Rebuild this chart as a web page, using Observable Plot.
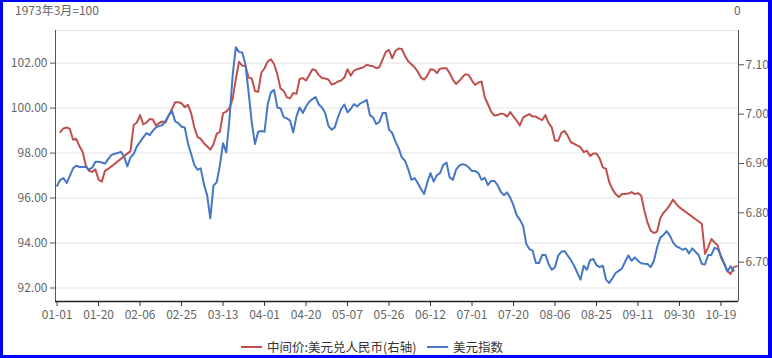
<!DOCTYPE html>
<html>
<head>
<meta charset="utf-8">
<script src="https://cdn.jsdelivr.net/npm/d3@7"></script>
<script src="https://cdn.jsdelivr.net/npm/@observablehq/plot@0.6"></script>
<style>
  html, body { margin: 0; padding: 0; background: #fff; }
  #wrap { position: relative; width: 772px; height: 358px; background: #fff; overflow: hidden;
          font-family: "Noto Sans CJK SC", "Noto Sans", sans-serif; }
  #chart { position: absolute; left: 0; top: 0; }
  .t { position: absolute; font-size: 12px; line-height: 12px; color: #666; white-space: nowrap; }
  .lg { position: absolute; font-size: 12.5px; line-height: 14px; color: #333; white-space: nowrap; }
  .sw { position: absolute; height: 2.5px; }
  #border { position: absolute; left: 0; top: 0; width: 772px; height: 358px; box-sizing: border-box;
            border-style: solid; border-color: #0000ff; border-width: 2px 4px 3px 3px; pointer-events: none; }
</style>
</head>
<body>
<div id="wrap">
  <div id="chart"></div>
  <div class="t" id="leftName" style="left:15px;top:4px"></div>
  <div class="t" id="rightName" style="left:734px;top:4px"></div>
  <div id="legend"></div>
  <div id="border"></div>
</div>
<script>
// ---- data ----
const seriesNames = ["中间价:美元兑人民币(右轴)", "美元指数"];
const seriesColors = ["#C0504D", "#4677C4"];
const leftAxisName = "1973年3月=100";
const rightAxisName = "0";

// x category tick labels (one every 13 trading days)
const xLabels = ["01-01","01-20","02-06","02-25","03-13","04-01","04-20","05-07","05-26",
                 "06-12","07-01","07-20","08-06","08-25","09-11","09-30","10-19"];
const labelStep = 13;
const categoryCount = 214;

const leftTicks = [92, 94, 96, 98, 100, 102];
const rightTicks = [6.70, 6.80, 6.90, 7.00, 7.10];
const leftDomain = [91.40, 103.45];
const rightDomain = [6.6204, 7.1694];

// 美元指数 (left axis)
const dxy = [
96.55,96.81,96.89,96.67,96.99,97.32,97.44,97.38,97.38,97.39,
97.26,97.35,97.61,97.61,97.58,97.53,97.73,97.91,97.97,98.00,
98.06,97.85,97.41,97.81,97.96,98.30,98.50,98.70,98.89,98.80,
98.99,99.14,99.21,99.24,99.44,99.69,99.88,99.41,99.33,99.17,
99.14,98.44,97.96,97.47,97.26,97.32,96.62,96.13,95.10,96.55,
96.70,97.44,98.44,98.03,99.51,101.44,102.70,102.50,102.47,101.96,
100.70,99.36,98.40,98.95,98.98,98.95,100.18,100.70,100.81,100.03,
99.99,99.60,99.54,99.44,98.92,99.63,100.03,99.78,100.07,100.28,
100.40,100.49,100.16,100.03,99.78,99.21,99.04,99.14,99.59,99.96,
100.16,99.81,99.96,100.18,100.07,100.21,100.28,100.37,99.69,99.59,
99.29,99.39,99.78,99.78,99.04,98.89,98.52,98.22,97.81,97.66,
97.29,96.81,96.89,96.67,96.40,96.18,96.70,97.11,96.73,97.02,
97.11,97.47,97.58,96.92,96.81,97.26,97.44,97.51,97.47,97.36,
97.20,97.20,97.11,96.81,96.90,96.58,96.76,96.76,96.58,96.28,
96.13,96.25,96.01,95.67,95.24,95.04,94.77,93.96,93.73,93.66,
93.11,93.11,93.47,93.47,93.07,92.81,92.92,93.44,93.61,93.64,
93.44,93.24,92.99,92.67,92.37,92.99,92.81,93.24,93.29,93.02,
92.93,92.99,92.37,92.22,92.43,92.67,92.76,92.87,93.18,93.45,
93.21,93.36,93.21,93.10,93.08,93.07,92.93,93.21,93.81,94.24,
94.36,94.53,94.33,94.03,93.85,93.79,93.70,93.76,93.54,93.76,
93.61,93.47,93.07,93.05,93.47,93.47,93.79,93.73,93.44,93.11,
92.73,92.96,92.77
];

// 中间价:美元兑人民币 (right axis), null = no fixing that day
const cny = [
null,6.964,6.971,6.973,6.970,6.948,6.950,6.935,6.924,6.896,
6.885,6.883,6.888,6.867,6.863,6.885,6.889,null,null,null,
null,null,null,6.925,6.978,6.983,6.998,6.979,6.983,6.990,
6.989,6.977,6.982,6.985,6.983,6.998,7.010,7.024,7.024,7.022,
7.014,7.019,7.002,6.973,6.954,6.950,6.941,6.935,6.928,6.939,
6.960,6.964,7.002,7.005,7.012,7.031,7.071,7.106,7.098,7.098,
7.074,7.072,7.047,7.045,7.084,7.093,7.107,7.111,7.101,7.081,
7.052,7.047,7.034,7.032,7.043,7.041,7.071,7.073,7.068,7.079,
7.091,7.089,7.079,7.073,7.072,7.070,7.060,7.062,7.066,7.068,
7.074,7.091,7.078,7.088,7.091,7.093,7.095,7.100,7.098,7.097,
7.093,7.095,7.111,7.126,7.130,7.113,7.128,7.133,7.132,7.118,
7.107,7.101,7.095,7.086,7.074,7.070,7.078,7.091,7.090,7.083,
7.092,7.093,7.093,7.083,7.070,7.061,7.067,7.075,7.081,7.079,
7.068,7.059,7.064,7.066,7.034,7.020,7.005,6.997,6.998,7.001,
7.000,6.995,7.004,6.995,6.987,6.977,6.993,6.997,7.000,6.995,
6.995,6.991,6.988,6.998,6.982,6.973,6.946,6.946,6.962,6.966,
6.956,6.943,6.940,6.936,6.933,6.923,6.926,6.915,6.920,6.920,
6.910,6.892,6.889,6.862,6.848,6.838,6.832,6.838,6.838,6.839,
6.842,6.838,6.840,6.835,6.805,6.780,6.764,6.759,6.762,6.789,
6.800,6.807,6.816,6.827,6.818,6.811,null,null,null,null,
null,null,6.778,6.717,6.730,6.747,6.740,6.734,6.710,6.697,
6.683,6.676,6.690,6.692
];

// ---- build ----
const toLeft = d3.scaleLinear().domain(rightDomain).range(leftDomain);
const dxyData = dxy.map((v, i) => ({i, v})).filter(d => d.v != null);
const cnyData = cny.map((v, i) => ({i, v})).filter(d => d.v != null);
const xTickIdx = xLabels.map((_, k) => k * labelStep);
const grid = [...leftTicks, leftDomain[1]];

const chart = Plot.plot({
  width: 772,
  height: 358,
  marginLeft: 55,
  marginRight: 34,
  marginTop: 30,
  marginBottom: 57,
  style: {background: "transparent", fontFamily: '"Noto Sans CJK SC", "Noto Sans", sans-serif', fontSize: "12px", color: "#666", overflow: "visible"},
  x: {domain: [-0.5, categoryCount - 0.5]},
  y: {domain: leftDomain},
  marks: [
    Plot.ruleY(grid, {stroke: "#e3e3e3", strokeWidth: 1}),
    Plot.line(cnyData, {x: "i", y: d => toLeft(d.v), stroke: seriesColors[0], strokeWidth: 2}),
    Plot.line(dxyData, {x: "i", y: "v", stroke: seriesColors[1], strokeWidth: 2}),
    Plot.axisY(leftTicks, {anchor: "left", tickFormat: d => d.toFixed(2), tickSize: 5, tickPadding: 3, label: null, stroke: "#555", fill: "#666"}),
    Plot.axisY(rightTicks.map(v => toLeft(v)), {anchor: "right", tickFormat: d => toLeft.invert(d).toFixed(2), tickSize: 5, tickPadding: 2, label: null, stroke: "#555", fill: "#666"}),
    Plot.axisX(xTickIdx, {anchor: "bottom", tickFormat: d => xLabels[xTickIdx.indexOf(d)], tickSize: 5, tickPadding: 4, label: null, stroke: "#333", fill: "#666"}),
    Plot.ruleX([-0.5], {stroke: "#555", strokeWidth: 1}),
    Plot.ruleX([categoryCount - 0.5], {stroke: "#555", strokeWidth: 1}),
    Plot.ruleY([leftDomain[0]], {stroke: "#222", strokeWidth: 1.6})
  ]
});
document.getElementById("chart").appendChild(chart);

document.getElementById("leftName").textContent = leftAxisName;
document.getElementById("rightName").textContent = rightAxisName;

// legend
const legend = document.getElementById("legend");
const legendPos = [241, 427];
seriesNames.forEach((name, k) => {
  const sw = document.createElement("div");
  sw.className = "sw";
  sw.style.left = legendPos[k] + "px";
  sw.style.top = "345.5px";
  sw.style.width = "21px";
  sw.style.background = seriesColors[k];
  legend.appendChild(sw);
  const tx = document.createElement("div");
  tx.className = "lg";
  tx.style.left = (legendPos[k] + 26) + "px";
  tx.style.top = "339.5px";
  tx.textContent = name;
  legend.appendChild(tx);
});
</script>
</body>
</html>
